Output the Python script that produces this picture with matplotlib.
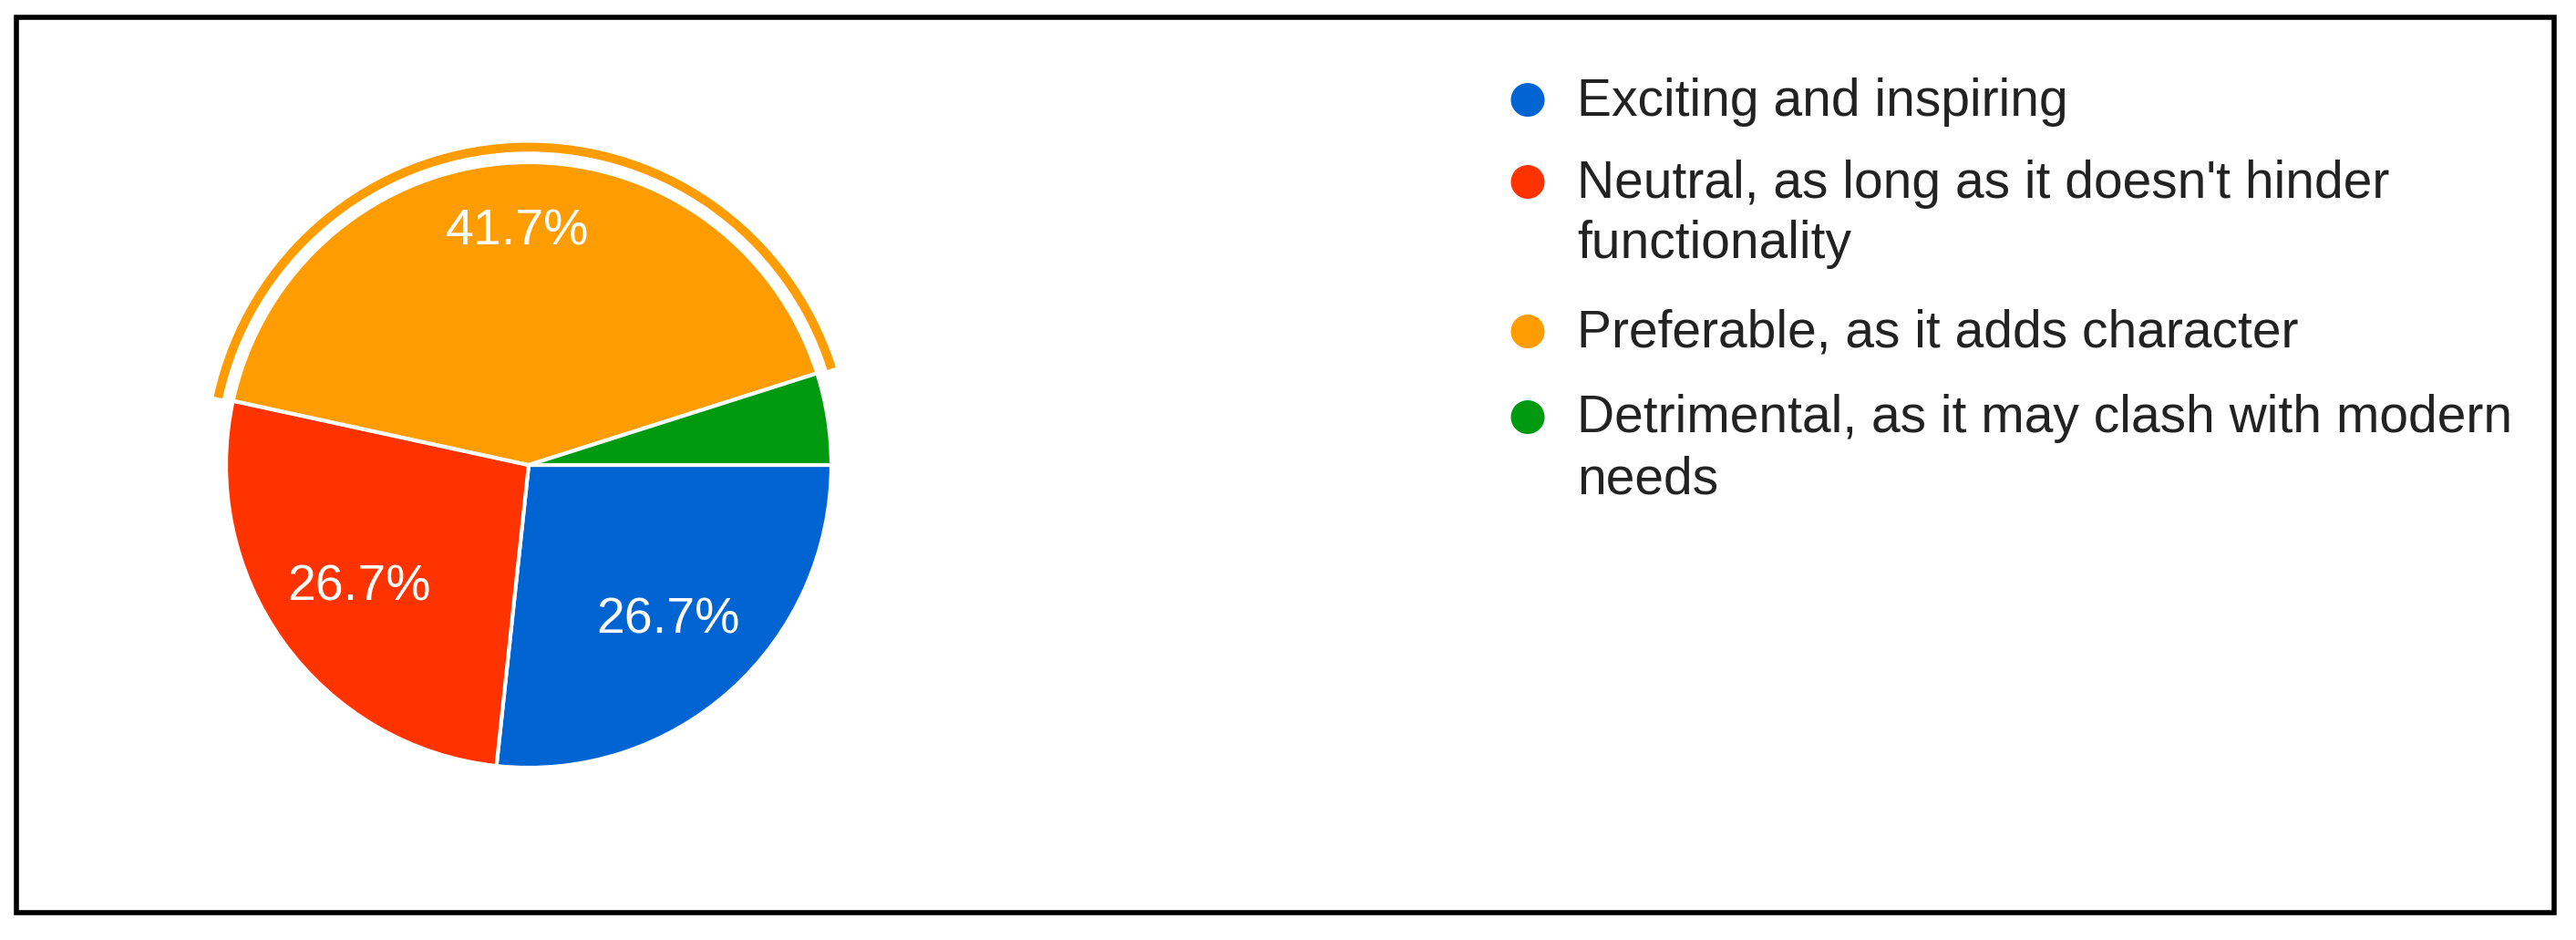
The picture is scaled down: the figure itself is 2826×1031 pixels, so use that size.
import numpy as np
import matplotlib
matplotlib.use('Agg')
import matplotlib.pyplot as plt
from matplotlib.patches import Arc, Rectangle

plt.rcParams['font.family'] = ['Liberation Sans', 'DejaVu Sans']

# Data
labels = ['Exciting and inspiring',
          "Neutral, as long as it doesn't hinder\nfunctionality",
          'Preferable, as it adds character',
          'Detrimental, as it may clash with modern\nneeds']
values = [26.7, 26.7, 41.7, 4.9]
colors = ['#0064d2', '#ff3300', '#ff9c00', '#009a10']
pct_dist = [0.69, 0.69, 0.77, 0.7]  # label distance per slice

W, H = 2826, 1031
fig = plt.figure(figsize=(W / 100, H / 100), dpi=100)

# outer black frame
fig.patches.append(Rectangle((18 / W, 30 / H), 2784 / W, 982 / H, transform=fig.transFigure,
                             fill=False, edgecolor='black', linewidth=4))

# pie axes: center (580, 510) px from top-left, radius ~429 px
cx, cy, half = 580, H - 510, 415
ax = fig.add_axes([(cx - half) / W, (cy - half) / H, 2 * half / W, 2 * half / H])
ax.set_xlim(-1.1, 1.1)
ax.set_ylim(-1.1, 1.1)
ax.set_aspect('equal')
ax.axis('off')

wedges, texts, autotexts = ax.pie(
    values, colors=colors, startangle=0, counterclock=False, radius=1.0,
    autopct=lambda p: '%.1f%%' % p if p > 10 else '', pctdistance=0.7,
    wedgeprops=dict(edgecolor='white', linewidth=3),
    textprops=dict(color='white', fontsize=40))

# move percentage labels to per-slice distances
for w, t, d in zip(wedges, autotexts, pct_dist):
    a = np.deg2rad((w.theta1 + w.theta2) / 2)
    t.set_position((d * np.cos(a), d * np.sin(a)))

# highlight arc around the largest slice
w = wedges[2]
ax.add_patch(Arc((0, 0), 2.1, 2.1, theta1=w.theta1, theta2=w.theta2,
                 color=colors[2], linewidth=7))

# legend
ys = [62, 112, 203, 255]
for lab, col, y in zip(labels, colors, ys):
    fig.text(930 * 1.802 / W, 1 - y * 1.802 / H, '\u25CF', color=col, fontsize=62,
             ha='center', va='center')
    fig.text(960 * 1.802 / W, 1 - (y - 15) * 1.802 / H, lab, color='#222222', fontsize=41,
             ha='left', va='top', linespacing=1.3)

fig.savefig('out.png', dpi=100)
